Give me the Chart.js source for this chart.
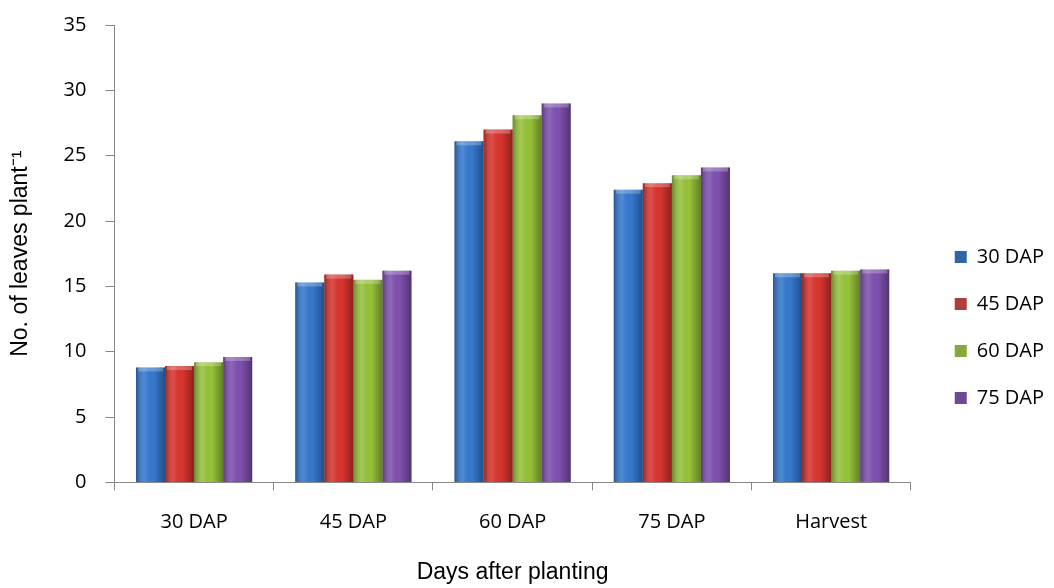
<!DOCTYPE html>
<html>
<head>
<meta charset="utf-8">
<script src="https://cdn.jsdelivr.net/npm/chart.js@4/dist/chart.umd.min.js"></script>
<style>
  html, body { margin: 0; padding: 0; background: #fff; }
  #wrap { width: 1054px; height: 588px; }
</style>
</head>
<body>
<div id="wrap"><canvas id="chart" width="1054" height="588"></canvas></div>
<script>
const categories = ["30 DAP", "45 DAP", "60 DAP", "75 DAP", "Harvest"];
const seriesNames = ["30 DAP", "45 DAP", "60 DAP", "75 DAP"];
const dap30 = [8.8, 15.3, 26.1, 22.4, 16.0];
const dap45 = [8.9, 15.9, 27.0, 22.9, 16.0];
const dap60 = [9.2, 15.5, 28.1, 23.5, 16.2];
const dap75 = [9.6, 16.2, 29.0, 24.1, 16.3];
const colors = ["#3579cf", "#d9342e", "#97c33a", "#7f50b0"];
const legendColors = ["#2f66a8", "#b03c3c", "#8aa83a", "#6a4b94"];
const tickFont = { family: "'Open Sans', sans-serif", size: 20 };
const titleFont = { family: "'Liberation Sans', Arial, sans-serif", size: 23 };

// cylinder-ish shading over each bar, like the old Office look
const shade = {
  id: "shade",
  afterDatasetsDraw(chart) {
    const ctx = chart.ctx;
    chart.data.datasets.forEach((ds, i) => {
      chart.getDatasetMeta(i).data.forEach(bar => {
        const left = bar.x - bar.width / 2;
        const g = ctx.createLinearGradient(left, 0, left + bar.width, 0);
        g.addColorStop(0, "rgba(0,0,0,0.30)");
        g.addColorStop(0.3, "rgba(255,255,255,0.12)");
        g.addColorStop(0.6, "rgba(0,0,0,0)");
        g.addColorStop(1, "rgba(0,0,0,0.35)");
        ctx.save();
        ctx.fillStyle = g;
        ctx.fillRect(left, bar.y, bar.width, bar.base - bar.y);
        ctx.fillStyle = "rgba(255,255,255,0.25)";
        ctx.fillRect(left + 2, bar.y, bar.width - 4, 4);
        ctx.restore();
      });
    });
  }
};

new Chart(document.getElementById("chart"), {
  type: "bar",
  data: {
    labels: categories,
    datasets: [dap30, dap45, dap60, dap75].map((d, i) => ({
      label: seriesNames[i],
      data: d,
      backgroundColor: colors[i],
      borderWidth: 0,
      barPercentage: 1,
      categoryPercentage: 0.73,
    })),
  },
  options: {
    responsive: false,
    animation: false,
    layout: { padding: { left: 0, right: 0, top: 25, bottom: 0 } },
    plugins: {
      tooltip: { enabled: false },
      legend: {
        position: "right",
        align: "center",
        // blank title just nudges the legend entries down
        title: { display: true, text: " ", padding: 9, font: tickFont },
        labels: {
          boxWidth: 12,
          boxHeight: 12,
          padding: 27,
          color: "#000",
          font: tickFont,
          generateLabels(chart) {
            const items = Chart.defaults.plugins.legend.labels.generateLabels(chart);
            items.forEach((it, i) => { it.fillStyle = legendColors[i]; it.lineWidth = 0; });
            return items;
          },
        },
      },
    },
    scales: {
      x: {
        grid: { display: true, drawOnChartArea: false, color: "#888", tickLength: 8, offset: true },
        border: { color: "#888" },
        ticks: { color: "#000", padding: 20, font: tickFont },
        title: {
          display: true,
          text: "Days after planting",
          color: "#000",
          padding: { top: 4, bottom: 2 },
          font: titleFont,
        },
      },
      y: {
        min: 0,
        max: 35,
        ticks: { stepSize: 5, color: "#000", padding: 19, font: tickFont },
        grid: { display: true, drawOnChartArea: false, color: "#888", tickLength: 9 },
        border: { color: "#888" },
        title: {
          display: true,
          text: "No. of leaves plant\u207B\u00B9",
          color: "#000",
          padding: { top: 7, bottom: 10 },
          font: titleFont,
        },
        afterFit(s) {
          s.paddingTop = 0;
          s.paddingBottom = 0;
        },
      },
      // empty spacer so the legend sits a bit away from the plot
      gap: {
        type: "linear",
        position: "right",
        display: true,
        grid: { display: false },
        border: { display: false },
        ticks: { display: false },
        afterFit(s) {
          s.width = 17;
          s.paddingTop = 0;
          s.paddingBottom = 0;
        },
      },
    },
  },
  plugins: [shade],
});
</script>
</body>
</html>
